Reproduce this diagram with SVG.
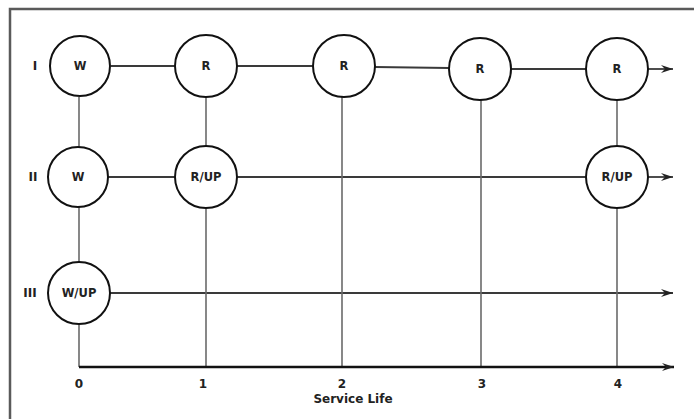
<svg xmlns="http://www.w3.org/2000/svg" width="694" height="419" viewBox="0 0 694 419">
<style>
.frame{stroke:#5a5a5a;stroke-width:2.5;fill:none}
.h{stroke:#3a3a3a;stroke-width:1.8;fill:none}
.v{stroke:#6a6a6a;stroke-width:1.6;fill:none}
.axis{stroke:#111;stroke-width:2.4;fill:none}
.node circle{fill:#fff;stroke:#111;stroke-width:2}
.t{font-family:"DejaVu Sans","Liberation Sans",sans-serif;font-weight:bold;fill:#222;text-anchor:middle}
.nl{font-size:11.5px}
.rl{font-size:12px}
</style>
<defs>
<marker id="arr" markerWidth="14" markerHeight="10" refX="12" refY="5" orient="auto" markerUnits="userSpaceOnUse">
<path d="M0,1 L12,5 L0,9 L4,5 Z" fill="#222"/>
</marker>
</defs>
<rect width="694" height="419" fill="#fff"/>
<path class="frame" d="M10,419 V9 H694"/>
<g id="connectors">
<!-- row I -->
<line class="h" x1="111" y1="66" x2="175" y2="66"/>
<line class="h" x1="237" y1="66" x2="313" y2="66"/>
<line class="h" x1="375" y1="67" x2="449" y2="68"/>
<line class="h" x1="511" y1="69" x2="586" y2="69"/>
<line class="h" x1="648" y1="69" x2="673" y2="69" marker-end="url(#arr)"/>
<!-- row II -->
<line class="h" x1="108" y1="177" x2="175" y2="177"/>
<line class="h" x1="237" y1="177" x2="586" y2="177"/>
<line class="h" x1="648" y1="177" x2="673" y2="177" marker-end="url(#arr)"/>
<!-- row III -->
<line class="h" x1="110" y1="293" x2="673" y2="293" marker-end="url(#arr)"/>
<!-- verticals -->
<line class="v" x1="79" y1="97" x2="79" y2="147"/>
<line class="v" x1="79" y1="207" x2="79" y2="262"/>
<line class="v" x1="79" y1="324" x2="79" y2="367"/>
<line class="v" x1="206" y1="97" x2="206" y2="147"/>
<line class="v" x1="206" y1="207" x2="206" y2="367"/>
<line class="v" x1="342" y1="96" x2="342" y2="367"/>
<line class="v" x1="481" y1="99" x2="481" y2="367"/>
<line class="v" x1="617" y1="99" x2="617" y2="147"/>
<line class="v" x1="617" y1="207" x2="617" y2="367"/>
<!-- axis -->
<line class="axis" x1="79" y1="367" x2="674" y2="367" marker-end="url(#arr)"/>
</g>
<g id="row-labels">
<text class="t rl" x="35" y="70">I</text>
<text class="t rl" x="33" y="181">II</text>
<text class="t rl" x="30" y="297">III</text>
</g>
<g id="n-I-0" class="node"><circle cx="80" cy="66" r="30"/><text class="t nl" x="80" y="70">W</text></g>
<g id="n-I-1" class="node"><circle cx="206" cy="66" r="31"/><text class="t nl" x="206" y="70">R</text></g>
<g id="n-I-2" class="node"><circle cx="344" cy="66" r="31"/><text class="t nl" x="344" y="70">R</text></g>
<g id="n-I-3" class="node"><circle cx="480" cy="69" r="31"/><text class="t nl" x="480" y="73">R</text></g>
<g id="n-I-4" class="node"><circle cx="617" cy="69" r="31"/><text class="t nl" x="617" y="73">R</text></g>
<g id="n-II-0" class="node"><circle cx="78" cy="177" r="30"/><text class="t nl" x="78" y="181">W</text></g>
<g id="n-II-1" class="node"><circle cx="206" cy="177" r="31"/><text class="t nl" x="206" y="181">R/UP</text></g>
<g id="n-II-4" class="node"><circle cx="617" cy="177" r="31"/><text class="t nl" x="617" y="181">R/UP</text></g>
<g id="n-III-0" class="node"><circle cx="79" cy="293" r="31"/><text class="t nl" x="79" y="297">W/UP</text></g>
<g id="axis-labels">
<text class="t rl" x="79" y="388">0</text>
<text class="t rl" x="203" y="388">1</text>
<text class="t rl" x="342" y="388">2</text>
<text class="t rl" x="482" y="388">3</text>
<text class="t rl" x="618" y="388">4</text>
<text class="t rl" x="353" y="403">Service Life</text>
</g>
</svg>
